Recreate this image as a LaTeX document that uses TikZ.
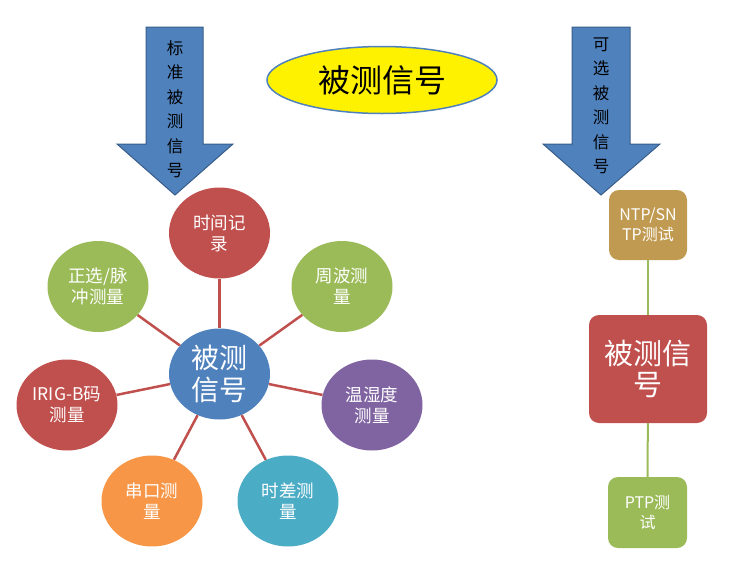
\documentclass[tikz,border=0pt]{standalone}
\usepackage{fontspec}
\setmainfont{Noto Sans CJK SC}
\usetikzlibrary{shapes.geometric}
\definecolor{officered}{HTML}{C0504D}
\definecolor{officegreen}{HTML}{9BBB59}
\definecolor{officeblue}{HTML}{4F81BD}
\definecolor{officedeep}{HTML}{385D8A}
\definecolor{officepurple}{HTML}{8064A2}
\definecolor{officeorange}{HTML}{F79646}
\definecolor{officeaqua}{HTML}{4BACC6}
\definecolor{officetan}{HTML}{C09A50}
\tikzset{>=stealth,
    arrowbox/.style={fill=officeblue,draw=officedeep,line width=1pt,line join=miter},
    arrowtext/.style={align=center,inner sep=0pt,font=\fontsize{16.5}{24.5}\selectfont},
    blob/.style={ellipse,minimum width=101,minimum height=91,inner sep=0pt,text=white,align=center,font=\fontsize{17.5}{21}\selectfont},
    hub/.style={blob,fill=officeblue,font=\fontsize{28}{31.5}\selectfont},
    spoke/.style={draw=officered,line width=2.5pt},
    sigbox/.style={rectangle,rounded corners=10pt,inner sep=0pt,text=white,align=center},
    link/.style={draw=officegreen,line width=2pt}}

\begin{document}
\begin{tikzpicture}[x=1pt,y=-1pt]
    \useasboundingbox (0,0) rectangle (732,579);
    \filldraw[arrowbox] (146,27) -- (203,27) -- (203,144) -- (233,144) -- (175,195) -- (117,144) -- (146,144) -- cycle;
    \node[arrowtext] (stdlabel) at (175,109) {标\\准\\被\\测\\信\\号};
    \filldraw[arrowbox] (572,27) -- (630,27) -- (630,144) -- (660,144) -- (601,195) -- (543,144) -- (572,144) -- cycle;
    \node[arrowtext] (optlabel) at (601,106) {可\\选\\被\\测\\信\\号};
    \node[ellipse,fill=yellow,draw=officeblue,line width=1.5pt,minimum width=230,minimum height=67,inner sep=0pt,font=\fontsize{32}{34}\selectfont] (title) at (382,80) {被测信号};

    \node[hub] (hub) at (219.5,374) {被测\\信号};
    \node[blob,fill=officered] (timelog) at (219.5,233) {时间记\\录};
    \node[blob,fill=officegreen] (cycle) at (342,286.5) {周波测\\量};
    \node[blob,fill=officegreen] (pulse) at (98,286.5) {正选/脉\\冲测量};
    \node[blob,fill=officered] (irig) at (67,405) {IRIG-B码\\测量};
    \node[blob,fill=officepurple] (humid) at (372,405) {温湿度\\测量};
    \node[blob,fill=officeorange] (serial) at (152,501) {串口测\\量};
    \node[blob,fill=officeaqua] (tdiff) at (288,501) {时差测\\量};
    \foreach \n in {timelog,cycle,pulse,irig,humid,serial,tdiff}
        \draw[spoke] (hub) -- (\n);

    \node[sigbox,fill=officetan,minimum width=78,minimum height=70,font=\fontsize{16}{20}\selectfont] (ntp) at (648,225) {NTP/SN\\TP测试};
    \node[sigbox,fill=officered,minimum width=118,minimum height=108,font=\fontsize{29}{31.5}\selectfont] (signal) at (648,369) {被测信\\号};
    \node[sigbox,fill=officegreen,minimum width=79,minimum height=71,font=\fontsize{16}{20}\selectfont] (ptp) at (647.5,512.5) {PTP测\\试};
    \draw[link] (ntp) -- (signal);
    \draw[link] (signal) -- (ptp);
\end{tikzpicture}
\end{document}
